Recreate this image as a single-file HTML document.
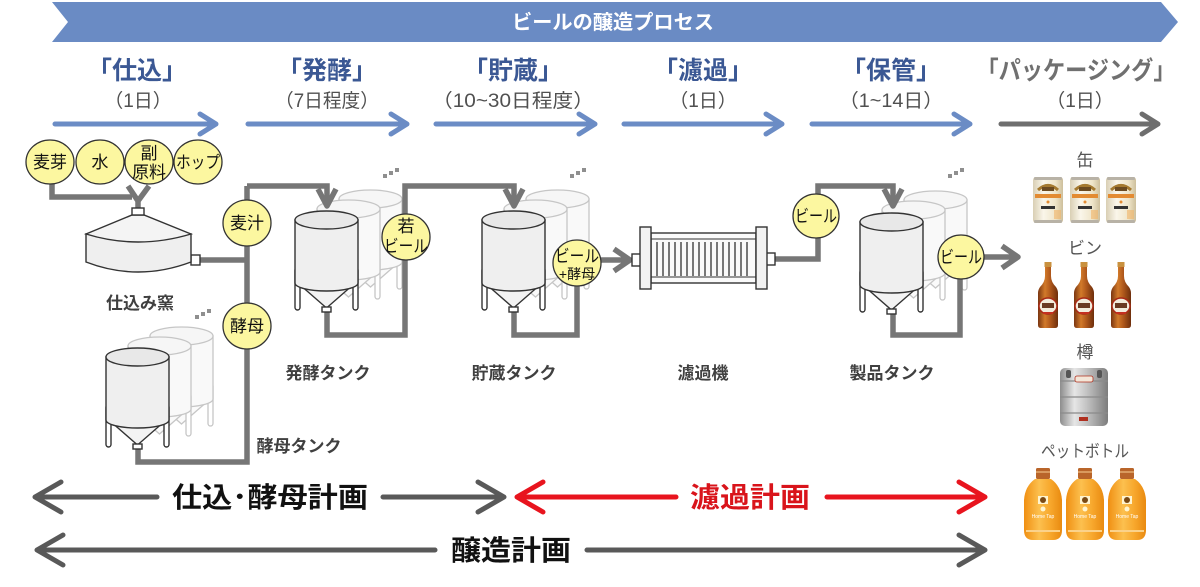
<!DOCTYPE html>
<html><head><meta charset="utf-8">
<style>
html,body{margin:0;padding:0;background:#fff;}
svg{display:block;}
text{font-family:"Liberation Sans","Noto Sans CJK JP",sans-serif;}
</style></head><body>
<svg width="1200" height="587" viewBox="0 0 1200 587" xmlns="http://www.w3.org/2000/svg">
<defs>
  <g id="tkF" stroke="#333" stroke-width="1.4">
    <rect x="0" y="48" width="5" height="42" rx="2.5" fill="#fff"/>
    <rect x="58" y="48" width="5" height="42" rx="2.5" fill="#fff"/>
    <path d="M4,64 L31.5,88 L59,64 Z" fill="#f3f3f3"/>
    <path d="M0,0 V63 A31.5,8 0 0 0 63,63 V0 Z" fill="#efefef"/>
    <ellipse cx="31.5" cy="0" rx="31.5" ry="9" fill="#e8e8e8"/>
    <rect x="27" y="87" width="9" height="5" fill="#fff"/>
  </g>
  <g id="tkB" stroke="#c6c6c6" stroke-width="1.3">
    <rect x="0" y="48" width="5" height="42" rx="2.5" fill="#fff"/>
    <rect x="58" y="48" width="5" height="42" rx="2.5" fill="#fff"/>
    <path d="M4,64 L31.5,88 L59,64 Z" fill="#fafafa"/>
    <path d="M0,0 V63 A31.5,8 0 0 0 63,63 V0 Z" fill="#f9f9f9"/>
    <ellipse cx="31.5" cy="0" rx="31.5" ry="9" fill="#f6f6f6"/>
  </g>
  <g id="dots" fill="#8f8f8f">
    <rect x="0" y="6" width="4" height="4"/><rect x="6" y="3" width="4" height="4"/><rect x="12" y="0" width="4" height="4"/>
  </g>
  <linearGradient id="canG" x1="0" x2="1" y1="0" y2="0">
    <stop offset="0" stop-color="#d9cfb4"/><stop offset="0.35" stop-color="#faf6ea"/><stop offset="0.75" stop-color="#efe5c9"/><stop offset="1" stop-color="#cdbf9c"/>
  </linearGradient>
  <g id="can">
    <rect x="0" y="0" width="30" height="46" rx="3" fill="url(#canG)"/>
    <rect x="1" y="0" width="28" height="3" rx="1" fill="#b8b2a6"/>
    <rect x="1" y="43" width="28" height="3" rx="1" fill="#b8b2a6"/>
    <path d="M5,13 Q15,4 25,13" stroke="#a57a30" stroke-width="3" fill="none"/>
    <rect x="9" y="10" width="12" height="4" fill="#6b4a20"/>
    <rect x="2" y="17" width="26" height="4" fill="#e38b32"/>
    <circle cx="15" cy="25" r="1.5" fill="#e38b32"/>
    <rect x="8" y="29" width="14" height="3" fill="#333"/>
    <rect x="21" y="33" width="7" height="9" fill="#f2b468" opacity=".6"/>
  </g>
  <linearGradient id="btG" x1="0" x2="1" y1="0" y2="0">
    <stop offset="0" stop-color="#7a3510"/><stop offset="0.35" stop-color="#d27a2a"/><stop offset="0.6" stop-color="#b25a1c"/><stop offset="1" stop-color="#6e2e0c"/>
  </linearGradient>
  <g id="bt">
    <path d="M-3,0 H3 V14 Q3,20 8,25 Q10,28 10,31 V63 Q10,66 7,66 H-7 Q-10,66 -10,63 V31 Q-10,28 -8,25 Q-3,20 -3,14 Z" fill="url(#btG)"/>
    <rect x="-3.5" y="0" width="7" height="5" fill="#c9913f"/>
    <ellipse cx="0" cy="44" rx="9" ry="8" fill="#f2ecdc" stroke="#a82a18" stroke-width="1.5"/>
    <rect x="-6" y="41" width="12" height="5" fill="#6a3a22"/>
    <rect x="-5" y="50" width="10" height="2" fill="#c43020"/>
  </g>
  <linearGradient id="kegG" x1="0" x2="1" y1="0" y2="0">
    <stop offset="0" stop-color="#8d8d8d"/><stop offset="0.3" stop-color="#e6e6e6"/><stop offset="0.55" stop-color="#c4c4c4"/><stop offset="1" stop-color="#7c7c7c"/>
  </linearGradient>
  <linearGradient id="petG" x1="0" x2="1" y1="0" y2="0">
    <stop offset="0" stop-color="#f08f12"/><stop offset="0.4" stop-color="#fcc04f"/><stop offset="0.7" stop-color="#f7a72c"/><stop offset="1" stop-color="#e98a10"/>
  </linearGradient>
  <g id="pet">
    <rect x="13" y="0" width="14" height="11" rx="1.5" fill="#b9652a"/>
    <rect x="13" y="3" width="14" height="2" fill="#d99a5e"/>
    <path d="M12,11 H28 Q38,18 39,32 V62 Q39,72 30,72 H10 Q1,72 1,62 V32 Q2,18 12,11 Z" fill="url(#petG)"/>
    <rect x="15" y="28" width="10" height="8" fill="#fff4cf"/>
    <circle cx="20" cy="32" r="3" fill="#7a4a15"/>
    <circle cx="20" cy="41" r="2.5" fill="#fff4cf"/>
    <text x="20" y="50" font-size="5" fill="#fff" text-anchor="middle">Home Tap</text>
    <rect x="3" y="62" width="34" height="2" fill="#fbd28a"/>
  </g>
</defs>

<!-- banner -->
<polygon points="52,2 1161,2 1178,22 1161,42 52,42 68,22" fill="#6a8bc4"/>
<text x="613" y="29" font-size="20" font-weight="bold" fill="#fff" text-anchor="middle" textLength="202" lengthAdjust="spacingAndGlyphs">ビールの醸造プロセス</text>

<!-- stage titles -->
<g font-size="25" font-weight="bold" fill="#3b5894" text-anchor="middle">
  <text x="137" y="79">「仕込」</text>
  <text x="327" y="79">「発酵」</text>
  <text x="513" y="79">「貯蔵」</text>
  <text x="703" y="79">「濾過」</text>
  <text x="891" y="79">「保管」</text>
  <text x="1076" y="79" fill="#707070" textLength="199" lengthAdjust="spacingAndGlyphs">「パッケージング」</text>
</g>
<g font-size="19" fill="#505050" text-anchor="middle">
  <text x="138" y="107">（1日）</text>
  <text x="327" y="107" textLength="104" lengthAdjust="spacingAndGlyphs">（7日程度）</text>
  <text x="513" y="107" textLength="162" lengthAdjust="spacingAndGlyphs">（10~30日程度）</text>
  <text x="703" y="107">（1日）</text>
  <text x="891" y="107" textLength="104" lengthAdjust="spacingAndGlyphs">（1~14日）</text>
  <text x="1080" y="107">（1日）</text>
</g>

<!-- stage arrows -->
<g stroke="#6b8cc5" stroke-width="5" fill="none" stroke-linecap="round" stroke-linejoin="round">
  <path d="M55,124 H215 M200,114 L216,124 L200,134"/>
  <path d="M248,124 H406 M391,114 L407,124 L391,134"/>
  <path d="M436,124 H594 M579,114 L595,124 L579,134"/>
  <path d="M624,124 H781 M766,114 L782,124 L766,134"/>
  <path d="M812,124 H969 M954,114 L970,124 L954,134"/>
  <path d="M1001,124 H1157 M1142,114 L1158,124 L1142,134" stroke="#6e6e6e"/>
</g>

<!-- dots -->
<use href="#dots" x="195" y="309"/>
<use href="#dots" x="383" y="168"/>
<use href="#dots" x="570" y="168"/>
<use href="#dots" x="948" y="168"/>

<!-- back tanks -->
<use href="#tkB" x="150" y="336"/>
<use href="#tkB" x="128" y="346"/>
<use href="#tkB" x="339" y="199"/>
<use href="#tkB" x="317" y="209"/>
<use href="#tkB" x="526" y="199"/>
<use href="#tkB" x="504" y="209"/>
<use href="#tkB" x="904" y="200"/>
<use href="#tkB" x="882" y="210"/>

<!-- pipes -->
<g stroke="#767676" stroke-width="5.5" fill="none" stroke-linejoin="miter">
  <path d="M52,182 V197 H132"/>
  <path d="M128,186 L138,201 L149,186 M138,200 V209" stroke-linejoin="round"/>
  <path d="M198,260 H247"/>
  <path d="M247,186 V462 H138 V448"/>
  <path d="M247,186 H327 V204"/>
  <path d="M318,189 L327,206 L336,189" stroke-linejoin="round"/>
  <path d="M327,312 V335 H405 V186 H514 V204"/>
  <path d="M505,189 L514,206 L523,189" stroke-linejoin="round"/>
  <path d="M514,312 V335 H577 V262"/>
  <path d="M598,260 H628 M614,249 L630,260 L614,271" stroke-linejoin="round"/>
  <path d="M775,259 H818 V186 H893 V204"/>
  <path d="M884,189 L893,206 L902,189" stroke-linejoin="round"/>
  <path d="M893,312 V335 H960 V257"/>
  <path d="M982,257 H1016 M1002,246 L1018,257 L1002,268" stroke-linejoin="round"/>
</g>

<!-- kettle -->
<g stroke="#333" stroke-width="1.4">
  <rect x="191" y="255" width="9" height="10" fill="#fff"/>
  <path d="M86,234 V262 Q138,282 191,262 V234 Z" fill="#efefef"/>
  <path d="M86,234 L132,215 H144 L191,234 Q138,250 86,234 Z" fill="#f4f4f4"/>
  <rect x="132" y="208" width="12" height="7" fill="#fff"/>
</g>

<!-- front tanks -->
<use href="#tkF" x="106" y="357"/>
<use href="#tkF" x="295" y="220"/>
<use href="#tkF" x="482" y="220"/>
<use href="#tkF" x="860" y="222"/>

<!-- filter -->
<g stroke="#333" stroke-width="1.4">
  <rect x="632" y="254" width="9" height="12" fill="#fff"/>
  <rect x="766" y="253" width="9" height="12" fill="#fff"/>
  <rect x="651" y="233" width="105" height="50" fill="#fafafa"/>
  <rect x="640" y="227" width="11" height="62" fill="#f2f2f2"/>
  <rect x="756" y="227" width="11" height="62" fill="#f2f2f2"/>
  <path d="M651,239 H756 M651,277 H756" stroke-width="1"/>
</g>
<g stroke="#333" stroke-width="1.3">
  <path d="M657,242 V276 M663,242 V276 M669,242 V276 M675,242 V276 M681,242 V276 M687,242 V276 M693,242 V276 M699,242 V276 M705,242 V276 M711,242 V276 M717,242 V276 M723,242 V276 M729,242 V276 M735,242 V276 M741,242 V276 M747,242 V276"/>
</g>

<!-- circles -->
<g fill="#fcf7a0" stroke="#333" stroke-width="1.3">
  <ellipse cx="50" cy="162" rx="24" ry="22"/>
  <ellipse cx="100" cy="162" rx="24" ry="22"/>
  <ellipse cx="149" cy="162" rx="24" ry="22"/>
  <ellipse cx="198" cy="162" rx="24" ry="22"/>
  <ellipse cx="247" cy="223" rx="24" ry="23"/>
  <ellipse cx="247" cy="326" rx="24" ry="23"/>
  <ellipse cx="406" cy="237" rx="24" ry="23"/>
  <ellipse cx="577" cy="263" rx="24" ry="23"/>
  <ellipse cx="816" cy="216" rx="23" ry="22"/>
  <ellipse cx="961" cy="257" rx="23" ry="22"/>
</g>
<g font-size="17" fill="#111" text-anchor="middle">
  <text x="50" y="168">麦芽</text>
  <text x="100" y="168">水</text>
  <text x="149" y="159">副</text>
  <text x="149" y="178">原料</text>
  <text x="198" y="168" textLength="44" lengthAdjust="spacingAndGlyphs">ホップ</text>
  <text x="247" y="229">麦汁</text>
  <text x="247" y="332">酵母</text>
  <text x="406" y="232">若</text>
  <text x="406" y="252" textLength="44" lengthAdjust="spacingAndGlyphs">ビール</text>
  <text x="577" y="262" textLength="44" lengthAdjust="spacingAndGlyphs">ビール</text>
  <text x="577" y="279" font-size="14">+酵母</text>
  <text x="816" y="222" textLength="42" lengthAdjust="spacingAndGlyphs">ビール</text>
  <text x="961" y="263" textLength="42" lengthAdjust="spacingAndGlyphs">ビール</text>
</g>

<!-- equipment labels -->
<g font-size="17" font-weight="bold" fill="#404040" text-anchor="middle">
  <text x="140" y="309">仕込み窯</text>
  <text x="328" y="379">発酵タンク</text>
  <text x="514" y="379">貯蔵タンク</text>
  <text x="703" y="379">濾過機</text>
  <text x="892" y="379">製品タンク</text>
  <text x="299" y="452">酵母タンク</text>
</g>

<!-- products -->
<g font-size="17" fill="#555" text-anchor="middle">
  <text x="1085" y="166">缶</text>
  <text x="1085" y="254">ビン</text>
  <text x="1085" y="358">樽</text>
  <text x="1085" y="457" textLength="88" lengthAdjust="spacingAndGlyphs">ペットボトル</text>
</g>
<use href="#can" x="1033" y="177"/>
<use href="#can" x="1070" y="177"/>
<use href="#can" x="1106" y="177"/>
<use href="#bt" x="1048" y="262"/>
<use href="#bt" x="1084" y="262"/>
<use href="#bt" x="1121" y="262"/>
<g>
  <rect x="1060" y="368" width="48" height="58" rx="5" fill="url(#kegG)"/>
  <rect x="1066" y="370" width="5" height="8" rx="2" fill="#555"/>
  <rect x="1097" y="370" width="5" height="8" rx="2" fill="#555"/>
  <path d="M1060,381 H1108 M1060,397 H1108 M1060,413 H1108" stroke="#8a8a8a" stroke-width="1.2"/>
  <rect x="1075" y="376" width="18" height="6" rx="2" fill="#f3e6d8" stroke="#b03020" stroke-width="0.8"/>
  <rect x="1079" y="417" width="9" height="4" fill="#b03020"/>
</g>
<use href="#pet" x="1023" y="468"/>
<use href="#pet" x="1065" y="468"/>
<use href="#pet" x="1107" y="468"/>

<!-- plan arrows -->
<g stroke="#595959" stroke-width="5" fill="none" stroke-linecap="round" stroke-linejoin="round">
  <path d="M35,497 H157 M61,482 L35,497 L61,512"/>
  <path d="M383,497 H504 M478,482 L504,497 L478,512"/>
  <path d="M37,550 H435 M63,535 L37,550 L63,565"/>
  <path d="M587,550 H985 M959,535 L985,550 L959,565"/>
</g>
<g stroke="#e8141e" stroke-width="5" fill="none" stroke-linecap="round" stroke-linejoin="round">
  <path d="M517,497 H676 M543,482 L517,497 L543,512"/>
  <path d="M827,497 H985 M959,482 L985,497 L959,512"/>
</g>
<g font-size="28" font-weight="bold" text-anchor="middle">
  <text x="270" y="507" fill="#111" textLength="196" lengthAdjust="spacingAndGlyphs">仕込･酵母計画</text>
  <text x="750" y="507" fill="#d9141b" textLength="120" lengthAdjust="spacingAndGlyphs">濾過計画</text>
  <text x="511" y="560" fill="#111" textLength="120" lengthAdjust="spacingAndGlyphs">醸造計画</text>
</g>
</svg>
</body></html>
